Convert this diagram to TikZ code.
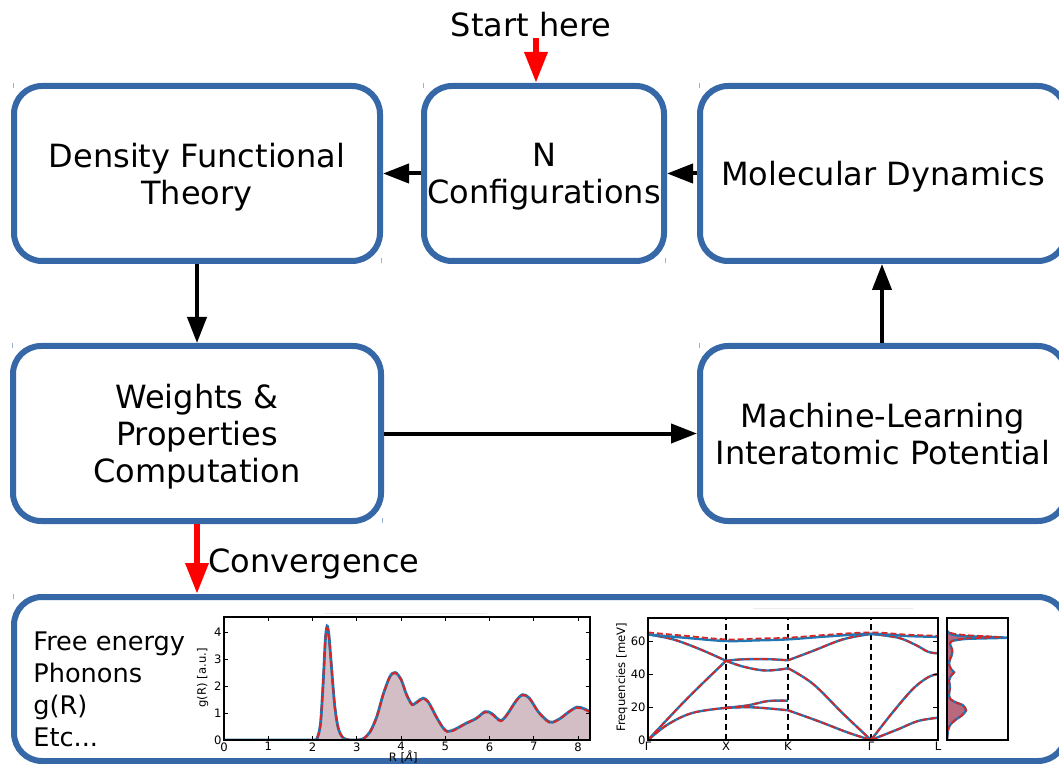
\documentclass[tikz,border=0pt]{standalone}
\usepackage{fontspec}
\setmainfont{DejaVu Sans}
\usetikzlibrary{arrows.meta}
\definecolor{boxblue}{RGB}{54,103,166}
\definecolor{mplblue}{RGB}{31,119,180}
\definecolor{mplred}{RGB}{214,39,40}
\definecolor{grfill}{RGB}{212,190,198}
\definecolor{dosfill}{RGB}{185,105,125}
\definecolor{markblue}{RGB}{150,178,214}
\newcommand\pltfont{\fontsize{5.8}{6.5}\selectfont}
\begin{document}
\begin{tikzpicture}[x=0.5pt,y=-0.5pt,
  box/.style={draw=boxblue, line width=3pt, rounded corners=14pt, fill=white, align=center,
    font=\fontsize{16}{18.5}\selectfont, inner sep=0pt, text depth=0pt},
  blk/.style={-{Triangle[length=13pt,width=9.5pt]}, line width=2pt, draw=black},
  redarr/.style={-{Triangle[length=15.5pt,width=11pt]}, line width=3.2pt, draw=red, fill=red},
  cmark/.style={draw=markblue, line width=0.5pt},
  bandb/.style={draw=mplblue, line width=1.2pt, smooth, tension=0.6},
  bandr/.style={draw=mplred, line width=0.9pt, dash pattern=on 3pt off 1.5pt, smooth, tension=0.6},
  axisline/.style={draw=black, line width=0.8pt},
  tick/.style={draw=black, line width=0.5pt}]
\useasboundingbox (0,0) rectangle (1059,764);
\clip (0,0) rectangle (1059,764);

% boxes
\node[box, minimum width=183pt, minimum height=87.5pt] (dft) at (197,173.5) {Density Functional\\Theory};
\node[box, minimum width=120pt, minimum height=87.5pt] (ncfg) at (544,173.5) {N\\Configurations};
\node[box, minimum width=183pt, minimum height=87.5pt] (md) at (883,173.5) {Molecular Dynamics};
\node[box, minimum width=184pt, minimum height=87.5pt] (wts) at (197,433.5) {Weights \&\\Properties\\Computation};
\node[box, minimum width=183pt, minimum height=87.5pt] (mlip) at (883,433.5) {Machine-Learning\\Interatomic Potential};
\node[box, minimum width=526pt, minimum height=82pt] (bot) at (540,679) {};

% small corner marks
\foreach \b in {dft,ncfg,md,wts,mlip,bot}{
  \draw[cmark] ([xshift=1.2pt]\b.north west) -- ++(0,5);
  \draw[cmark] ([xshift=-0.6pt,yshift=0.4pt]\b.south east) -- ++(0,-5);
}

% labels
\node[font=\fontsize{16}{18.5}\selectfont] (start) at (531,25) {Start here};
\coordinate (startpt) at (536,38);
\node[font=\fontsize{16}{18.5}\selectfont, anchor=west, inner sep=0pt] (conv) at (208,564) {Convergence};

% connectors
\draw[blk] (ncfg.west) -- (dft.east);
\draw[blk] (md.west) -- (ncfg.east);
\draw[blk] (dft.south) -- (wts.north);
\draw[blk] (wts.east) -- (mlip.west);
\draw[blk] (mlip.north -| 882,0) -- (md.south -| 882,0);
\draw[redarr] (startpt) -- (startpt |- ncfg.north);
\draw[redarr] (wts.south) -- (wts.south |- bot.north);

% property list
\node[anchor=west, align=left, font=\fontsize{12.8}{16}\selectfont, inner sep=0pt] (props) at (33,689)
  {Free energy\\Phonons\\g(R)\\Etc...};

% faint title lines
\draw[black!8, line width=0.5pt] (324,613) -- (487,613);
\draw[black!8, line width=0.5pt] (753,608) -- (913,608);

% ---------- g(R) plot ----------
\begin{scope}[shift={(224,740)}]
\begin{scope}[x=22.125pt, y=13.5pt]
  \begin{scope}
    \clip (0,0) rectangle (8.27,4.56);
    \fill[grfill] (0,0) -- plot[smooth, tension=0.5] coordinates {(0,0) (2.0,0) (2.1,0.05) (2.18,0.6) (2.24,2.1) (2.29,3.7) (2.33,4.22) (2.37,3.9) (2.42,2.9) (2.5,1.3) (2.58,0.45) (2.68,0.1) (2.8,0.01) (3.0,0) (3.15,0.05) (3.3,0.3) (3.45,0.85) (3.6,1.7) (3.75,2.35) (3.87,2.5) (4.0,2.25) (4.12,1.7) (4.25,1.32) (4.37,1.42) (4.5,1.55) (4.62,1.4) (4.8,0.85) (4.95,0.45) (5.05,0.32) (5.2,0.38) (5.45,0.6) (5.7,0.8) (5.9,1.05) (6.05,0.98) (6.25,0.72) (6.4,0.95) (6.6,1.45) (6.75,1.68) (6.9,1.55) (7.1,1.05) (7.3,0.72) (7.42,0.66) (7.6,0.8) (7.8,1.05) (7.98,1.22) (8.15,1.15) (8.27,1.05)} -- (8.27,0) -- cycle;
    \draw[draw=mplblue, line width=1.4pt] plot[smooth, tension=0.5] coordinates {(0,0) (2.0,0) (2.1,0.05) (2.18,0.6) (2.24,2.1) (2.29,3.7) (2.33,4.22) (2.37,3.9) (2.42,2.9) (2.5,1.3) (2.58,0.45) (2.68,0.1) (2.8,0.01) (3.0,0) (3.15,0.05) (3.3,0.3) (3.45,0.85) (3.6,1.7) (3.75,2.35) (3.87,2.5) (4.0,2.25) (4.12,1.7) (4.25,1.32) (4.37,1.42) (4.5,1.55) (4.62,1.4) (4.8,0.85) (4.95,0.45) (5.05,0.32) (5.2,0.38) (5.45,0.6) (5.7,0.8) (5.9,1.05) (6.05,0.98) (6.25,0.72) (6.4,0.95) (6.6,1.45) (6.75,1.68) (6.9,1.55) (7.1,1.05) (7.3,0.72) (7.42,0.66) (7.6,0.8) (7.8,1.05) (7.98,1.22) (8.15,1.15) (8.27,1.05)};
    \draw[draw=mplred, line width=1pt, dash pattern=on 3pt off 1.5pt] plot[smooth, tension=0.5] coordinates {(0,0) (2.0,0) (2.1,0.05) (2.18,0.6) (2.24,2.1) (2.29,3.7) (2.33,4.15) (2.37,3.85) (2.42,2.9) (2.5,1.3) (2.58,0.45) (2.68,0.1) (2.8,0.01) (3.0,0) (3.15,0.05) (3.3,0.3) (3.45,0.85) (3.6,1.7) (3.75,2.35) (3.87,2.48) (4.0,2.25) (4.12,1.7) (4.25,1.3) (4.37,1.4) (4.5,1.52) (4.62,1.4) (4.8,0.85) (4.95,0.45) (5.05,0.3) (5.2,0.36) (5.45,0.6) (5.7,0.8) (5.9,1.03) (6.05,0.96) (6.25,0.7) (6.4,0.95) (6.6,1.45) (6.75,1.66) (6.9,1.55) (7.1,1.05) (7.3,0.7) (7.42,0.64) (7.6,0.8) (7.8,1.05) (7.98,1.2) (8.15,1.13) (8.27,1.03)};
  \end{scope}
  \draw[axisline] (0,0) rectangle (8.27,4.56);
  \foreach \i in {0,...,8}{
    \draw[tick] (\i,0) -- ++(0,0.15);
    \draw[tick] (\i,4.56) -- ++(0,-0.15);
    \node[font=\pltfont, anchor=north, inner sep=1pt] (gx\i) at (\i,0) {\i};
  }
  \foreach \j in {0,...,4}{
    \draw[tick] (0,\j) -- ++(0.09,0);
    \draw[tick] (8.27,\j) -- ++(-0.09,0);
    \node[font=\pltfont, anchor=east, inner sep=1pt] (gy\j) at (0,\j) {\j};
  }
  \node[font=\pltfont, rotate=90] (gylab) at (-0.48,2.3) {g(R) [a.u.]};
  \node[font=\pltfont] (gxlab) at (4.05,-0.62) {R [\textit{Å}]};
\end{scope}
\end{scope}

% ---------- phonon band plot ----------
\begin{scope}[shift={(648,740)}]
\begin{scope}[x=0.5pt, y=0.825pt]
  \begin{scope}
    \clip (0,0) rectangle (290,74);
    \foreach \xx in {78,140,223}{\draw[black, line width=0.8pt, dash pattern=on 3pt off 2pt] (\xx,0) -- (\xx,74);}
    \foreach \st in {bandb,bandr}{
      \draw[\st] plot coordinates {(0,64) (25,61) (52,55) (78,48)};
      \draw[\st] plot coordinates {(0,0) (39,25) (78,48)};
      \draw[\st] plot coordinates {(78,48) (95,48.9) (120,49) (140,48.3)};
      \draw[\st] plot coordinates {(78,48) (95,44.5) (115,42.2) (130,42.6) (140,43.5)};
      \draw[\st] plot coordinates {(140,48.3) (165,54) (195,61) (223,64.3)};
      \draw[\st] plot coordinates {(140,43.5) (165,34) (195,16) (223,0)};
      \draw[\st] plot coordinates {(0,0) (20,9.5) (45,16.5) (78,19.5)};
      \draw[\st] plot coordinates {(78,19.5) (100,21) (120,23.6) (140,23.8)};
      \draw[\st] plot coordinates {(78,19.5) (105,19.8) (140,18)};
      \draw[\st] plot coordinates {(140,18) (170,11.5) (200,4.5) (223,0)};
      \draw[\st] plot coordinates {(223,0) (245,17) (265,31) (280,38) (290,40)};
      \draw[\st] plot coordinates {(223,0) (250,6.5) (270,11.5) (290,13.5)};
      \draw[\st] plot coordinates {(223,64.3) (250,62) (268,57.5) (280,53.5) (290,52.5)};
    }
    \draw[bandb] plot coordinates {(0,64) (40,61.8) (78,60) (110,60.4) (140,61) (180,62.8) (223,64.3) (260,63) (290,62.5)};
    \draw[bandr] plot coordinates {(0,65.2) (40,63) (78,61) (110,61.5) (140,62) (180,63.8) (223,65.2) (260,63.8) (290,63.2)};
  \end{scope}
  \draw[axisline] (0,0) rectangle (290,74);
  \foreach \j in {0,20,40,60}{
    \draw[tick] (0,\j) -- ++(5,0);
    \draw[tick] (290,\j) -- ++(-5,0);
    \node[font=\pltfont, anchor=east, inner sep=1pt] (py\j) at (0,\j) {\j};
  }
  \node[font=\pltfont, anchor=north, inner sep=1pt] (pG1) at (0,0) {Γ};
  \node[font=\pltfont, anchor=north, inner sep=1pt] (pX) at (78,0) {X};
  \node[font=\pltfont, anchor=north, inner sep=1pt] (pK) at (140,0) {K};
  \node[font=\pltfont, anchor=north, inner sep=1pt] (pG2) at (223,0) {Γ};
  \node[font=\pltfont, anchor=north, inner sep=1pt] (pL) at (290,0) {L};
  \node[font=\pltfont, rotate=90] (pylab) at (-26,38) {Frequencies [meV]};
\end{scope}
\end{scope}

% ---------- DOS panel ----------
\begin{scope}[shift={(947,740)}]
\begin{scope}[x=0.5pt, y=0.825pt]
  \begin{scope}
    \clip (0,0) rectangle (61,74);
    \fill[dosfill] (0,0) -- plot[smooth, tension=0.4] coordinates {(0,0) (0.5,3) (1,6) (3,9) (8,12) (15,15) (19,18) (16,21) (8,23) (3,25) (2,28) (3,32) (2,36) (4,39) (7,41) (4,43) (2,46) (3,49) (5,52) (5,55) (3,58) (5,60) (20,61.3) (60,62) (25,62.8) (8,63.5) (3,64.5) (1,65.5) (0,66)} -- cycle;
    \draw[draw=mplblue, line width=1.2pt] plot[smooth, tension=0.4] coordinates {(0,0) (0.5,3) (1,6) (3,9) (8,12) (15,15) (19,18) (16,21) (8,23) (3,25) (2,28) (3,32) (2,36) (4,39) (7,41) (4,43) (2,46) (3,49) (5,52) (5,55) (3,58) (5,60) (20,61.3) (60,62) (25,62.8) (8,63.5) (3,64.5) (1,65.5) (0,66)};
    \draw[draw=mplred, line width=0.9pt, dash pattern=on 3pt off 1.5pt] plot[smooth, tension=0.4] coordinates {(0,0) (0.5,3) (1,6) (3,9) (8,12) (15,15) (19,18) (16,21) (8,23) (3,25) (2,28) (3,32) (2,36) (4,39) (7,41) (4,43) (2,46) (3,49) (5,52) (5,55) (3,58) (5,60) (18,61.5) (50,62.4) (20,63.5) (6,64.5) (2,65.5) (0,66.5)};
  \end{scope}
  \draw[axisline] (0,0) rectangle (61,74);
\end{scope}
\end{scope}
\end{tikzpicture}
\end{document}
